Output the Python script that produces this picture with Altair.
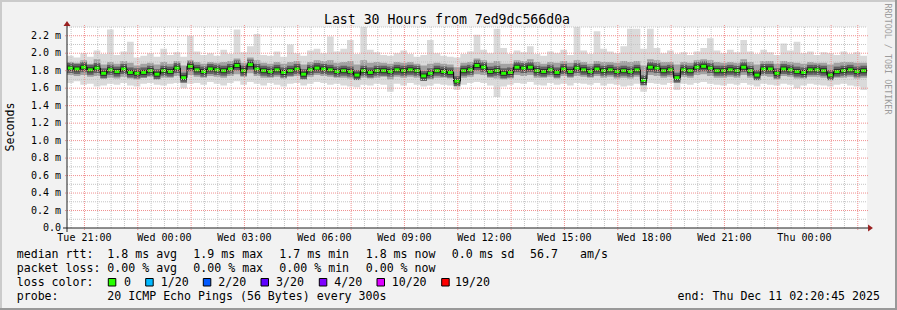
import altair as alt
import pandas as pd

MONO = "DejaVu Sans Mono"
PX, PY = 67, 27          # plot origin inside the 897x310 picture
W, H = 800, 201

# ---- data: 15-minute steps from Tue 20:20:45 to Thu 02:20:45 (30 h) ----
step_minutes = 15
median_ms = [1.83, 1.82, 1.84, 1.81, 1.83, 1.77, 1.81, 1.79, 1.82, 1.78,
             1.77, 1.78, 1.80, 1.76, 1.80, 1.79, 1.83, 1.72, 1.85, 1.81,
             1.79, 1.82, 1.81, 1.80, 1.82, 1.86, 1.80, 1.87, 1.82, 1.80,
             1.79, 1.81, 1.78, 1.80, 1.82, 1.76, 1.81, 1.83, 1.82, 1.81,
             1.79, 1.80, 1.79, 1.75, 1.80, 1.78, 1.80, 1.80, 1.79, 1.81,
             1.80, 1.81, 1.80, 1.74, 1.77, 1.80, 1.79, 1.78, 1.68, 1.80,
             1.81, 1.86, 1.84, 1.79, 1.80, 1.77, 1.78, 1.84, 1.83, 1.84,
             1.80, 1.79, 1.81, 1.78, 1.82, 1.79, 1.83, 1.81, 1.79, 1.82,
             1.80, 1.81, 1.79, 1.80, 1.79, 1.81, 1.69, 1.84, 1.83, 1.80,
             1.81, 1.72, 1.81, 1.80, 1.84, 1.85, 1.83, 1.80, 1.80, 1.81,
             1.80, 1.84, 1.80, 1.75, 1.82, 1.82, 1.77, 1.82, 1.81, 1.79,
             1.78, 1.81, 1.81, 1.80, 1.75, 1.79, 1.80, 1.81, 1.79, 1.80]
inner_lo_ms = [1.75, 1.74, 1.75, 1.73, 1.74, 1.71, 1.72, 1.71, 1.73, 1.71,
               1.70, 1.72, 1.73, 1.70, 1.72, 1.72, 1.74, 1.68, 1.75, 1.73,
               1.72, 1.74, 1.73, 1.72, 1.74, 1.76, 1.73, 1.77, 1.74, 1.72,
               1.72, 1.73, 1.71, 1.73, 1.74, 1.70, 1.73, 1.75, 1.74, 1.73,
               1.72, 1.72, 1.71, 1.70, 1.72, 1.71, 1.72, 1.73, 1.70, 1.73,
               1.72, 1.73, 1.72, 1.69, 1.70, 1.72, 1.72, 1.71, 1.65, 1.72,
               1.73, 1.76, 1.75, 1.72, 1.71, 1.70, 1.71, 1.75, 1.74, 1.75,
               1.72, 1.72, 1.73, 1.71, 1.74, 1.72, 1.74, 1.73, 1.72, 1.74,
               1.72, 1.73, 1.71, 1.72, 1.71, 1.73, 1.66, 1.75, 1.74, 1.72,
               1.73, 1.67, 1.73, 1.72, 1.75, 1.76, 1.74, 1.72, 1.72, 1.73,
               1.72, 1.75, 1.72, 1.69, 1.74, 1.73, 1.70, 1.74, 1.73, 1.71,
               1.71, 1.73, 1.73, 1.72, 1.69, 1.72, 1.72, 1.73, 1.71, 1.72]
inner_hi_ms = [1.90, 1.89, 1.92, 1.88, 1.93, 1.87, 1.90, 1.88, 1.91, 1.89,
               1.86, 1.88, 1.89, 1.87, 1.90, 1.88, 1.91, 1.86, 1.92, 1.90,
               1.88, 1.90, 1.89, 1.90, 1.91, 1.94, 1.89, 1.95, 1.92, 1.89,
               1.88, 1.90, 1.88, 1.90, 1.91, 1.87, 1.90, 1.92, 1.91, 1.92,
               1.89, 1.90, 1.91, 1.87, 1.92, 1.89, 1.90, 1.89, 1.88, 1.90,
               1.89, 1.90, 1.88, 1.86, 1.88, 1.89, 1.88, 1.87, 1.84, 1.89,
               1.90, 1.94, 1.92, 1.89, 1.91, 1.88, 1.88, 1.92, 1.91, 1.93,
               1.90, 1.88, 1.90, 1.89, 1.91, 1.89, 1.92, 1.90, 1.88, 1.91,
               1.90, 1.90, 1.89, 1.91, 1.90, 1.91, 1.86, 1.93, 1.92, 1.90,
               1.90, 1.87, 1.90, 1.89, 1.92, 1.93, 1.92, 1.90, 1.89, 1.90,
               1.89, 1.93, 1.90, 1.87, 1.91, 1.91, 1.88, 1.91, 1.90, 1.89,
               1.88, 1.90, 1.89, 1.89, 1.87, 1.89, 1.90, 1.90, 1.89, 1.89]
min_ms = [1.66, 1.68, 1.64, 1.65, 1.62, 1.63, 1.65, 1.64, 1.66, 1.63,
          1.62, 1.65, 1.66, 1.64, 1.63, 1.65, 1.66, 1.60, 1.65, 1.66,
          1.64, 1.67, 1.65, 1.63, 1.66, 1.68, 1.64, 1.67, 1.65, 1.63,
          1.66, 1.64, 1.62, 1.65, 1.66, 1.63, 1.65, 1.67, 1.66, 1.64,
          1.65, 1.63, 1.62, 1.61, 1.64, 1.63, 1.65, 1.64, 1.56, 1.65,
          1.63, 1.66, 1.64, 1.62, 1.63, 1.65, 1.64, 1.63, 1.58, 1.64,
          1.66, 1.67, 1.66, 1.63, 1.50, 1.62, 1.64, 1.66, 1.65, 1.67,
          1.64, 1.63, 1.66, 1.64, 1.65, 1.63, 1.66, 1.65, 1.64, 1.66,
          1.63, 1.65, 1.64, 1.62, 1.63, 1.65, 1.56, 1.66, 1.65, 1.64,
          1.66, 1.58, 1.65, 1.64, 1.66, 1.67, 1.65, 1.64, 1.63, 1.65,
          1.64, 1.66, 1.64, 1.62, 1.65, 1.64, 1.63, 1.65, 1.64, 1.60,
          1.63, 1.65, 1.64, 1.63, 1.62, 1.64, 1.65, 1.63, 1.62, 1.58]
max_ms = [1.97, 1.95, 2.00, 1.96, 2.03, 1.99, 2.27, 1.98, 2.02, 2.13,
          1.95, 1.97, 2.00, 1.96, 2.05, 1.98, 2.01, 1.96, 2.20, 2.02,
          1.98, 2.00, 1.97, 2.04, 1.99, 2.27, 2.01, 2.08, 2.22, 1.98,
          1.97, 2.02, 1.96, 2.10, 2.00, 1.97, 2.03, 2.05, 2.00, 2.19,
          2.02, 2.05, 2.15, 1.99, 2.30, 2.04, 2.01, 1.98, 1.97, 2.00,
          2.03, 1.99, 1.96, 1.98, 2.15, 2.00, 1.97, 1.96, 1.95, 1.99,
          2.02, 2.21, 2.04, 2.00, 2.28, 2.06, 1.99, 2.03, 2.01, 2.08,
          1.99, 1.97, 2.02, 2.00, 2.04, 1.98, 2.30, 2.03, 1.99, 2.25,
          2.05, 2.02, 2.00, 2.08, 2.28, 2.28, 2.05, 2.28, 2.06, 2.00,
          2.03, 1.99, 2.01, 1.98, 2.02, 2.06, 2.17, 2.03, 2.00, 2.04,
          2.01, 2.15, 2.02, 1.99, 2.04, 2.01, 1.98, 2.11, 2.03, 2.13,
          2.00, 2.02, 1.98, 2.01, 2.00, 1.98, 2.02, 1.99, 2.01, 1.97]

x_tick_labels = ["Tue 21:00", "Wed 00:00", "Wed 03:00", "Wed 06:00", "Wed 09:00",
                 "Wed 12:00", "Wed 15:00", "Wed 18:00", "Wed 21:00", "Thu 00:00"]
x_tick_minutes = [39.25, 219.25, 399.25, 579.25, 759.25,
                  939.25, 1119.25, 1299.25, 1479.25, 1659.25]
y_tick_values = [0.0, 0.2, 0.4, 0.6, 0.8, 1.0, 1.2, 1.4, 1.6, 1.8, 2.0, 2.2]
y_tick_labels = ["0.0", "0.2 m", "0.4 m", "0.6 m", "0.8 m", "1.0 m", "1.2 m",
                 "1.4 m", "1.6 m", "1.8 m", "2.0 m", "2.2 m"]
loss_labels = ["0", "1/20", "2/20", "3/20", "4/20", "10/20", "19/20"]
loss_colors = ["#26ff00", "#00b8ff", "#0059ff", "#5e00ff", "#7e00ff", "#dd00ff", "#ff0000"]

# ---- tables ----
n = len(median_ms)
t0 = [i * step_minutes for i in range(n)]
smoke = pd.DataFrame({"t0": t0, "t1": [t + step_minutes for t in t0],
                      "tc": [t + step_minutes / 2 for t in t0],
                      "med": median_ms, "in_lo": inner_lo_ms, "in_hi": inner_hi_ms,
                      "lo": min_ms, "hi": max_ms})
smoke_area = pd.concat([smoke, smoke.tail(1).assign(t0=n * step_minutes)], ignore_index=True)

major_v = [39.25 + 120 * j for j in range(15)] + [1779.25]
minor_v = [m for m in (9.25 + 30 * j for j in range(60)) if m not in major_v]
major_h = [round(0.2 * j, 1) for j in range(1, 12)]
minor_h = [round(0.1 + 0.2 * j, 1) for j in range(12)]

xs = alt.Scale(domain=[0, 1800], nice=False, zero=False)
ys = alt.Scale(domain=[0, 2.3], nice=False, zero=True)
one = pd.DataFrame({"k": [0]})


def X(f):
    return alt.X(f, type="quantitative", scale=xs, axis=None)


def Y(f):
    return alt.Y(f, type="quantitative", scale=ys, axis=None)


def label(x, y, s, size=11.6, align="left", baseline="alphabetic", angle=0, color="#000000"):
    return alt.Chart(one).mark_text(
        text=s, font=MONO, fontSize=size, align=align, baseline=baseline,
        angle=angle, color=color
    ).encode(x=alt.value(x - PX), y=alt.value(y - PY))


def hline(x1, x2, y, color, w=1):
    return alt.Chart(one).mark_rule(color=color, strokeWidth=w).encode(
        x=alt.value(x1 - PX), x2=alt.value(x2 - PX), y=alt.value(y - PY))


def vline(x, y1, y2, color, w=1):
    return alt.Chart(one).mark_rule(color=color, strokeWidth=w).encode(
        x=alt.value(x - PX), y=alt.value(y1 - PY), y2=alt.value(y2 - PY))


layers = []

# smoke
layers.append(alt.Chart(smoke_area).mark_area(interpolate="step-after", color="#dadada")
              .encode(x=X("t0"), y=Y("lo"), y2="hi"))
layers.append(alt.Chart(smoke_area).mark_area(interpolate="step-after", color="#a2a2a2")
              .encode(x=X("t0"), y=Y("in_lo"), y2="in_hi"))
layers.append(alt.Chart(smoke).mark_rule(color="#626262", strokeWidth=10)
              .encode(x=X("t0"), x2="t1", y=Y("med")))
layers.append(alt.Chart(smoke).mark_rule(color="#2c2c2c", strokeWidth=5)
              .encode(x=X("t0"), x2="t1", y=Y("med")))
# median: dark step line with green loss-colour marks
layers.append(alt.Chart(smoke_area).mark_line(interpolate="step-after", color="#000000", strokeWidth=1)
              .encode(x=X("t0"), y=Y("med")))
layers.append(alt.Chart(smoke).mark_tick(color="#26ff00", orient="horizontal", size=5,
                                         thickness=3, opacity=1)
              .encode(x=X("tc"), y=Y("med")))

# grid (drawn over the data, like rrdtool)
layers.append(alt.Chart(pd.DataFrame({"m": minor_v})).mark_rule(
    color="#c4c4c4", strokeDash=[1, 1], strokeWidth=1).encode(
    x=X("m"), y=alt.value(0), y2=alt.value(H)))
layers.append(alt.Chart(pd.DataFrame({"v": minor_h})).mark_rule(
    color="#c4c4c4", strokeDash=[1, 1], strokeWidth=1).encode(
    y=Y("v"), x=alt.value(0), x2=alt.value(W)))
layers.append(alt.Chart(pd.DataFrame({"m": major_v})).mark_rule(
    color="#f09090", strokeDash=[1, 1], strokeWidth=1).encode(
    x=X("m"), y=alt.value(-2), y2=alt.value(H + 2)))
layers.append(alt.Chart(pd.DataFrame({"v": major_h})).mark_rule(
    color="#f09090", strokeDash=[1, 1], strokeWidth=1).encode(
    y=Y("v"), x=alt.value(-2), x2=alt.value(W + 2)))

# axes
layers.append(vline(67, 232, 25, "#202020"))
layers.append(hline(63, 869, 228, "#202020"))
layers.append(alt.Chart(one).mark_point(
    shape="M-1,0.7L0,-0.7L1,0.7Z", filled=True, size=49, color="#9a2020", opacity=1)
    .encode(x=alt.value(67 - PX), y=alt.value(23.5 - PY)))
layers.append(alt.Chart(one).mark_point(
    shape="M-0.7,-1L0.7,0L-0.7,1Z", filled=True, size=49, color="#9a2020", opacity=1)
    .encode(x=alt.value(870.5 - PX), y=alt.value(228 - PY)))

# tick labels
layers.append(alt.Chart(pd.DataFrame({"v": y_tick_values, "lab": y_tick_labels}))
              .mark_text(font=MONO, fontSize=10, align="right", baseline="middle", color="#000000")
              .encode(y=Y("v"), x=alt.value(-6), text="lab:N"))
layers.append(alt.Chart(pd.DataFrame({"m": x_tick_minutes, "lab": x_tick_labels}))
              .mark_text(font=MONO, fontSize=10, align="center", baseline="alphabetic", color="#000000")
              .encode(x=X("m"), y=alt.value(241 - PY), text="lab:N"))

# titles
layers.append(label(447, 23.5, "Last 30 Hours from 7ed9dc566d0a", size=13.2, align="center"))
layers.append(label(11, 127, "Seconds", align="center", baseline="middle", angle=270))
layers.append(label(888, 59, "RRDTOOL / TOBI OETIKER", size=8.4, align="center",
                    baseline="middle", angle=90, color="#9c9c9c"))

# legend text
legend_rows = [
    (258, [(16.7, "median rtt:"), (107.3, "1.8 ms avg"), (193.3, "1.9 ms max"),
           (279.3, "1.7 ms min"), (365.7, "1.8 ms now"), (451.7, "0.0 ms sd"),
           (530, "56.7"), (580, "am/s")]),
    (272, [(16.7, "packet loss:"), (107.3, "0.00 % avg"), (193.3, "0.00 % max"),
           (279.3, "0.00 % min"), (365.7, "0.00 % now")]),
    (286, [(16.7, "loss color:")]),
    (300, [(16.7, "probe:"), (107.3, "20 ICMP Echo Pings (56 Bytes) every 300s")]),
]
for yy, items in legend_rows:
    for xx, s in items:
        layers.append(label(xx, yy, s))
layers.append(label(880, 300, "end: Thu Dec 11 02:20:45 2025", align="right"))

box_left = [108.3, 145.7, 203.3, 261.0, 319.3, 377.0, 441.7]
box_text = [124.0, 160.7, 218.3, 276.0, 334.3, 391.7, 455.0]
for bx, tx, lab, col in zip(box_left, box_text, loss_labels, loss_colors):
    layers.append(alt.Chart(one).mark_rect(color=col, stroke="#000000", strokeWidth=1)
                  .encode(x=alt.value(bx - PX), x2=alt.value(bx + 7.5 - PX),
                          y=alt.value(278.5 - PY), y2=alt.value(286 - PY)))
    layers.append(label(tx, 286, lab))

# 3-D frame of the image
layers.append(hline(0, 897, 1, "#cbcbcb", 2))
layers.append(vline(1, 0, 310, "#cbcbcb", 2))
layers.append(hline(0, 897, 309, "#999999", 2))
layers.append(vline(896, 0, 310, "#999999", 2))

chart = alt.layer(*layers).properties(
    width=W, height=H,
    padding={"left": PX, "top": PY, "right": 897 - PX - W, "bottom": 310 - PY - H},
    autosize=alt.AutoSizeParams(type="none"),
).configure(background="#f2f2f2").configure_view(fill="#ffffff", strokeWidth=0)

chart.save("out.html", embed_options={"renderer": "svg", "actions": False})
